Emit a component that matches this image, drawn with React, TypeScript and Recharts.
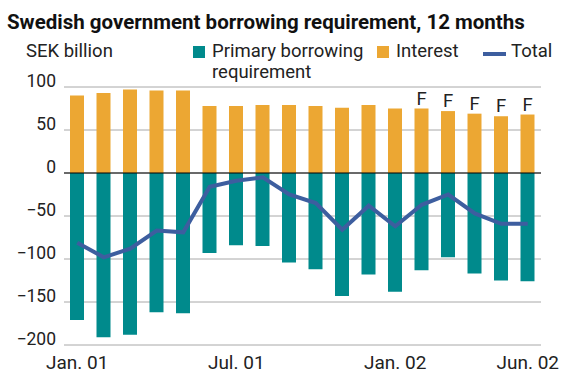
import { Bar, CartesianGrid, ComposedChart, LabelList, Line, ReferenceLine, XAxis, YAxis } from "recharts";

const months = [
  "Jan. 01", "Feb. 01", "Mar. 01", "Apr. 01", "May 01", "Jun. 01",
  "Jul. 01", "Aug. 01", "Sep. 01", "Oct. 01", "Nov. 01", "Dec. 01",
  "Jan. 02", "Feb. 02", "Mar. 02", "Apr. 02", "May 02", "Jun. 02",
];
const primary = [-171, -191, -188, -162, -163, -93, -84, -85, -104, -112, -143, -118, -138, -113, -98, -117, -125, -126];
const interest = [90, 93, 97, 96, 96, 78, 78, 79, 79, 78, 76, 79, 75, 75, 72, 69, 66, 68];
const total = [-81, -98, -88, -67, -69, -16, -9, -5, -25, -35, -66, -38, -62, -37, -25, -47, -59, -59];
const flags = ["", "", "", "", "", "", "", "", "", "", "", "", "", "F", "F", "F", "F", "F"];
const xTicks = ["Jan. 01", "Jul. 01", "Jan. 02", "Jun. 02"];
const yTicks = [-200, -150, -100, -50, 0, 50, 100];

const TEAL = "#008a8c";
const ORANGE = "#eca733";
const BLUE = "#3d5e9f";
const TXT = "#222";
const FONT = "Roboto, 'Liberation Sans', sans-serif";

const rows = months.map((m, i) => ({
  month: m,
  primary: primary[i],
  interest: interest[i],
  total: total[i],
  flag: flags[i],
}));

const fmt = (v: number) => (v < 0 ? "\u2212" + Math.abs(v) : String(v));

// labels sit on the gridline (baseline), not centred on it
function YTick({ x, y, payload }: any) {
  return (
    <text x={x} y={y} textAnchor="end" fontSize={17.5} fill={TXT} fontFamily={FONT}>
      {fmt(payload.value)}
    </text>
  );
}

function XTick({ x, payload }: any) {
  return (
    <text x={x} y={369} textAnchor="middle" fontSize={19} fill={TXT} fontFamily={FONT}>
      {payload.value}
    </text>
  );
}

const legendText = { position: "absolute" as const, fontSize: 18.5, color: TXT, lineHeight: "21px", whiteSpace: "nowrap" as const };

export default function App() {
  return (
    <div style={{ position: "absolute", left: 0, top: 0, width: 562, height: 374, background: "#fff", fontFamily: FONT }}>
      <div style={{ position: "absolute", left: 7, top: 10, fontSize: 20.5, lineHeight: "24px", fontWeight: 700, color: "#111", whiteSpace: "nowrap" }}>
        Swedish government borrowing requirement, 12 months
      </div>
      <div style={{ ...legendText, left: 26, top: 41 }}>SEK billion</div>
      <div style={{ position: "absolute", left: 193, top: 46, width: 12, height: 12, background: TEAL }} />
      <div style={{ ...legendText, left: 212, top: 41 }}>
        Primary borrowing
        <br />
        requirement
      </div>
      <div style={{ position: "absolute", left: 377, top: 46, width: 12, height: 12, background: ORANGE }} />
      <div style={{ ...legendText, left: 396, top: 41 }}>Interest</div>
      <div style={{ position: "absolute", left: 483, top: 52, width: 23, height: 4, background: BLUE }} />
      <div style={{ ...legendText, left: 511, top: 41 }}>Total</div>

      <ComposedChart
        width={562}
        height={374}
        data={rows}
        stackOffset="sign"
        margin={{ top: 87, right: 21, bottom: 0, left: 0 }}
        style={{ position: "absolute", left: 0, top: 0 }}
      >
        <CartesianGrid vertical={false} stroke="#a8a8a8" />
        <XAxis dataKey="month" ticks={xTicks} height={29} axisLine={false} tickLine={false} interval={0} tick={<XTick />} />
        <YAxis width={64} domain={[-200, 100]} ticks={yTicks} axisLine={false} tickLine={false} tick={<YTick />} />
        <Bar dataKey="primary" stackId="a" fill={TEAL} barSize={14} isAnimationActive={false} />
        <Bar dataKey="interest" stackId="a" fill={ORANGE} barSize={14} isAnimationActive={false}>
          <LabelList dataKey="flag" position="top" offset={4} fill={TXT} fontSize={18.5} fontFamily={FONT} />
        </Bar>
        <ReferenceLine y={0} stroke="#000" strokeWidth={1.2} />
        <Line dataKey="total" type="linear" stroke={BLUE} strokeWidth={4} dot={false} isAnimationActive={false} />
      </ComposedChart>
    </div>
  );
}
